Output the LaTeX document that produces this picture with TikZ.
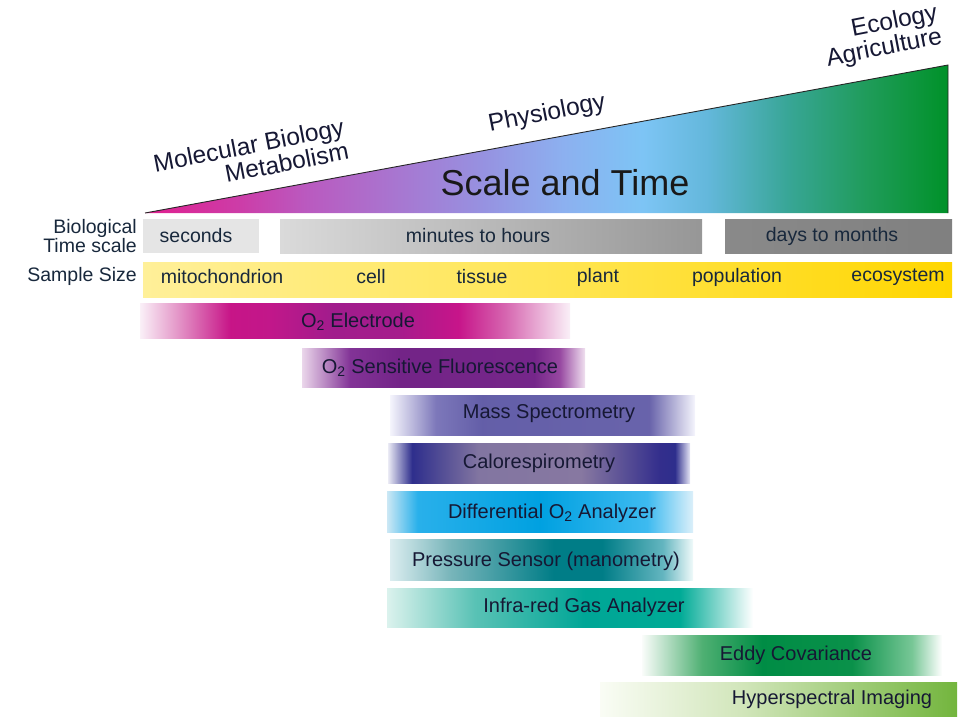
\documentclass[tikz,border=0pt]{standalone}
\usepackage{fontspec}
\setmainfont{Liberation Sans}
\definecolor{ink}{RGB}{22,24,52}
\definecolor{rowink}{RGB}{24,40,60}
% shadings: path bounding box maps to 25bp..75bp
\pgfdeclarehorizontalshading{tri}{100bp}{rgb(0bp)=(0.88,0.12,0.56); rgb(25bp)=(0.88,0.12,0.56); rgb(31bp)=(0.80,0.24,0.66); rgb(35bp)=(0.73,0.35,0.75); rgb(46bp)=(0.59,0.57,0.88); rgb(51bp)=(0.55,0.69,0.94); rgb(56bp)=(0.49,0.77,0.96); rgb(60bp)=(0.39,0.72,0.86); rgb(65bp)=(0.22,0.65,0.59); rgb(70bp)=(0.12,0.61,0.35); rgb(75bp)=(0,0.57,0.16); rgb(100bp)=(0,0.57,0.16)}
\pgfdeclarehorizontalshading{minsh}{100bp}{rgb(0bp)=(0.855,0.855,0.855); rgb(25bp)=(0.855,0.855,0.855); rgb(75bp)=(0.59,0.59,0.59); rgb(100bp)=(0.59,0.59,0.59)}
\pgfdeclarehorizontalshading{daysh}{100bp}{rgb(0bp)=(0.54,0.54,0.54); rgb(25bp)=(0.54,0.54,0.54); rgb(75bp)=(0.50,0.50,0.50); rgb(100bp)=(0.50,0.50,0.50)}
\pgfdeclarehorizontalshading{samplesh}{100bp}{rgb(0bp)=(1,0.94,0.6); rgb(25bp)=(1,0.94,0.6); rgb(50bp)=(1,0.9,0.33); rgb(75bp)=(1,0.84,0.0); rgb(100bp)=(1,0.84,0.0)}
\pgfdeclarehorizontalshading{elecsh}{100bp}{rgb(0bp)=(0.98,0.94,0.97); rgb(25bp)=(0.98,0.94,0.97); rgb(29bp)=(0.90,0.62,0.80); rgb(35.5bp)=(0.78,0.08,0.53); rgb(40bp)=(0.76,0.09,0.54); rgb(47.5bp)=(0.63,0.11,0.55); rgb(55bp)=(0.65,0.11,0.55); rgb(62bp)=(0.78,0.08,0.54); rgb(67.5bp)=(0.84,0.40,0.69); rgb(75bp)=(0.98,0.94,0.97); rgb(100bp)=(0.98,0.94,0.97)}
\pgfdeclarehorizontalshading{fluorsh}{100bp}{rgb(0bp)=(0.92,0.84,0.92); rgb(25bp)=(0.92,0.84,0.92); rgb(33.5bp)=(0.51,0.20,0.59); rgb(42.5bp)=(0.45,0.14,0.53); rgb(66bp)=(0.46,0.15,0.54); rgb(70.5bp)=(0.59,0.28,0.63); rgb(75bp)=(0.94,0.88,0.94); rgb(100bp)=(0.94,0.88,0.94)}
\pgfdeclarehorizontalshading{masssh}{100bp}{rgb(0bp)=(0.96,0.96,0.99); rgb(25bp)=(0.96,0.96,0.99); rgb(32.5bp)=(0.49,0.47,0.73); rgb(40bp)=(0.39,0.37,0.66); rgb(67.5bp)=(0.41,0.39,0.67); rgb(75bp)=(0.96,0.96,0.99); rgb(100bp)=(0.96,0.96,0.99)}
\pgfdeclarehorizontalshading{calosh}{100bp}{rgb(0bp)=(0.92,0.92,0.96); rgb(25bp)=(0.92,0.92,0.96); rgb(29bp)=(0.18,0.18,0.55); rgb(40bp)=(0.51,0.46,0.63); rgb(57bp)=(0.53,0.47,0.63); rgb(70bp)=(0.20,0.18,0.55); rgb(72.5bp)=(0.18,0.18,0.55); rgb(75bp)=(0.90,0.90,0.96); rgb(100bp)=(0.90,0.90,0.96)}
\pgfdeclarehorizontalshading{diffsh}{100bp}{rgb(0bp)=(0.80,0.91,0.96); rgb(25bp)=(0.80,0.91,0.96); rgb(30bp)=(0.16,0.69,0.92); rgb(50bp)=(0.0,0.63,0.88); rgb(67.5bp)=(0.24,0.73,0.94); rgb(75bp)=(0.86,0.94,0.98); rgb(100bp)=(0.86,0.94,0.98)}
\pgfdeclarehorizontalshading{presssh}{100bp}{rgb(0bp)=(0.86,0.93,0.94); rgb(25bp)=(0.86,0.93,0.94); rgb(35bp)=(0.47,0.71,0.73); rgb(52bp)=(0.0,0.49,0.53); rgb(60bp)=(0.0,0.49,0.53); rgb(70bp)=(0.39,0.71,0.75); rgb(75bp)=(0.94,0.98,0.98); rgb(100bp)=(0.94,0.98,0.98)}
\pgfdeclarehorizontalshading{irgash}{100bp}{rgb(0bp)=(0.86,0.95,0.93); rgb(25bp)=(0.86,0.95,0.93); rgb(37bp)=(0.35,0.76,0.71); rgb(52bp)=(0.0,0.65,0.59); rgb(65bp)=(0.0,0.67,0.59); rgb(75bp)=(1,1,1); rgb(100bp)=(1,1,1)}
\pgfdeclarehorizontalshading{eddysh}{100bp}{rgb(0bp)=(0.98,0.99,0.98); rgb(25bp)=(0.98,0.99,0.98); rgb(35bp)=(0.31,0.69,0.45); rgb(45bp)=(0.0,0.55,0.27); rgb(60bp)=(0.04,0.57,0.29); rgb(70bp)=(0.47,0.78,0.59); rgb(75bp)=(1,1,1); rgb(100bp)=(1,1,1)}
\pgfdeclarehorizontalshading{hypersh}{100bp}{rgb(0bp)=(0.98,0.99,0.96); rgb(25bp)=(0.98,0.99,0.96); rgb(45bp)=(0.82,0.90,0.73); rgb(75bp)=(0.45,0.71,0.24); rgb(100bp)=(0.45,0.71,0.24)}
\tikzset{
  plainbox/.style={draw=none, inner sep=0pt, outer sep=0pt, anchor=north west},
  bar/.style={plainbox, shade},
  barlabel/.style={font=\fontsize{20}{21}\selectfont, text=ink, inner sep=0pt},
  rowlabel/.style={font=\fontsize{19.5}{21}\selectfont, text=rowink, inner sep=0pt},
  sidelabel/.style={font=\fontsize{19.5}{19}\selectfont, text=rowink, inner sep=0pt, align=right, anchor=east},
  toplabel/.style={font=\fontsize{24.5}{24}\selectfont, text=ink, inner sep=0pt, rotate=11, align=right},
}
\begin{document}
\begin{tikzpicture}[x=1pt, y=-1pt]
\useasboundingbox (0,0) rectangle (963,716);
% triangle
\coordinate (tl) at (145,213);
\coordinate (tr) at (948,65);
\coordinate (br) at (948,213);
\shade[shading=tri] (tl) -- (tr) -- (br) -- cycle;
\draw[line width=0.9pt, black!85] (tl) -- (tr) -- (br);
\node[font=\fontsize{36}{36}\selectfont, text=black!90, inner sep=0pt] (scale) at (565,183) {Scale and Time};
\node[toplabel] (molbio) at (251,157) {Molecular Biology\\Metabolism};
\node[toplabel] (physio) at (547,114) {Physiology};
\node[toplabel] (ecol) at (882,37) {Ecology\\Agriculture};
% time scale row
\node[sidelabel] (biolab) at (137,236) {Biological\\Time scale};
\node[plainbox, fill=black!10, minimum width=116pt, minimum height=34pt] (secbox) at (143,219) {};
\node[bar, shading=minsh, minimum width=422pt, minimum height=34pt] (minbox) at (280,219) {};
\node[bar, shading=daysh, minimum width=227pt, minimum height=34pt] (daybox) at (725,219) {};
\node[rowlabel] (sect) at (196,236) {seconds};
\node[rowlabel] (mint) at (478,236) {minutes to hours};
\node[rowlabel] (dayt) at (832,236) {days to months};
% sample size row
\node[sidelabel] (samplab) at (137,276) {Sample Size};
\node[bar, shading=samplesh, minimum width=809pt, minimum height=35pt] (sampbox) at (143,262) {};
\node[rowlabel] (s1) at (222,277) {mitochondrion};
\node[rowlabel] (s2) at (371,277) {cell};
\node[rowlabel] (s3) at (482,277) {tissue};
\node[rowlabel] (s4) at (598,277) {plant};
\node[rowlabel] (s5) at (737,277) {population};
\node[rowlabel] (s6) at (898,277) {ecosystem};
% technique bars
\node[bar, shading=elecsh, minimum width=430pt, minimum height=35pt] (elec) at (140,303) {};
\node[barlabel] (elect) at (358,322) {O\textsubscript{2} Electrode};
\node[bar, shading=fluorsh, minimum width=283pt, minimum height=39pt] (fluor) at (302,348) {};
\node[barlabel] (fluort) at (440,368) {O\textsubscript{2} Sensitive Fluorescence};
\node[bar, shading=masssh, minimum width=305pt, minimum height=40pt] (mass) at (390,395) {};
\node[barlabel] (masst) at (549,414) {Mass Spectrometry};
\node[bar, shading=calosh, minimum width=302pt, minimum height=40pt] (calo) at (388,443) {};
\node[barlabel] (calot) at (539,463) {Calorespirometry};
\node[bar, shading=diffsh, minimum width=306pt, minimum height=41pt] (diff) at (387,491) {};
\node[barlabel] (difft) at (552,513) {Differential O\textsubscript{2} Analyzer};
\node[bar, shading=presssh, minimum width=303pt, minimum height=41pt] (press) at (390,539) {};
\node[barlabel] (presst) at (546,561) {Pressure Sensor (manometry)};
\node[bar, shading=irgash, minimum width=366pt, minimum height=39pt] (irga) at (387,588) {};
\node[barlabel] (irgat) at (584,607) {Infra-red Gas Analyzer};
\node[bar, shading=eddysh, minimum width=300pt, minimum height=40pt] (eddy) at (642,635) {};
\node[barlabel] (eddyt) at (796,655) {Eddy Covariance};
\node[bar, shading=hypersh, minimum width=357pt, minimum height=35pt] (hyper) at (600,682) {};
\node[barlabel] (hypert) at (832,699) {Hyperspectral Imaging};
\end{tikzpicture}
\end{document}
